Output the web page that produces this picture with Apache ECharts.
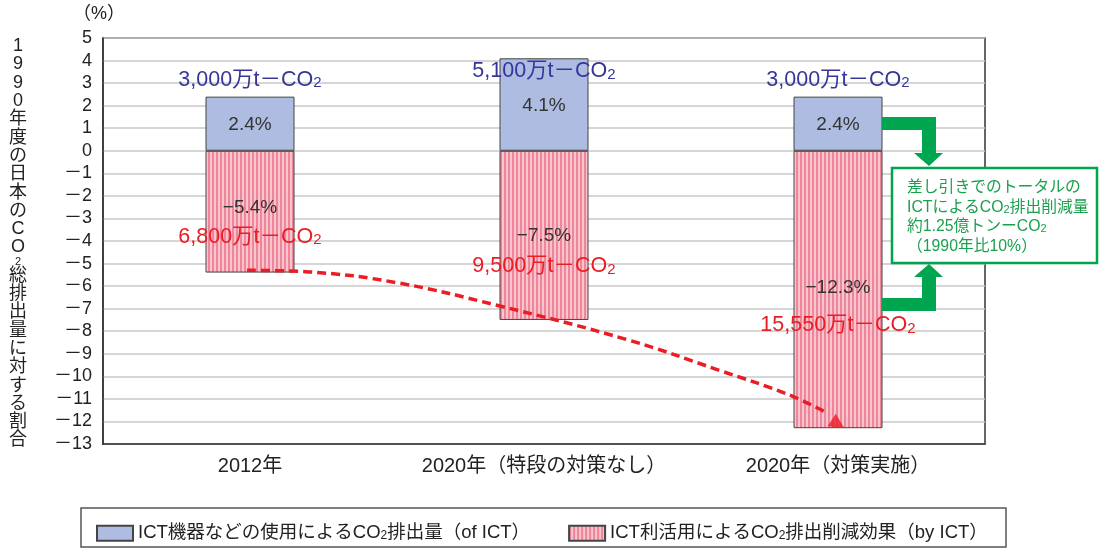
<!DOCTYPE html>
<html>
<head>
<meta charset="utf-8">
<style>
  html, body { margin: 0; padding: 0; background: #fff; }
  #chart { width: 1099px; height: 548px; }
</style>
<script src="https://cdn.jsdelivr.net/npm/echarts@6/dist/echarts.min.js"></script>
</head>
<body>
<div id="chart"></div>
<script>
// Categories and values (% of Japan's 1990 total CO2 emissions)
const categories = ['2012年', '2020年（特段の対策なし）', '2020年（対策実施）'];
const ictEmission = [2.4, 4.1, 2.4];          // CO2 emitted by ICT equipment
const ictReduction = [-5.4, -7.5, -12.3];     // CO2 reduced through ICT use
const emissionAmounts = ['3,000', '5,100', '3,000'];     // 万t-CO2
const reductionAmounts = ['6,800', '9,500', '15,550'];   // 万t-CO2

// Trend of the reduction effect (x in category units, y in %)
const trendX = [0.49, 0.7, 1.0, 1.34, 1.79, 2.1, 2.33, 2.46];
const trendY = [-5.3, -5.37, -5.85, -6.85, -8.4, -9.75, -10.8, -11.6];
const trendArrow = [2.5, -12.12];

const FONT = "'Liberation Sans', 'Noto Sans CJK JP', sans-serif";
const BLUE_TEXT = '#36369a';
const RED_TEXT = '#ea1c24';
const GREEN = '#00a550';

// Label layout: gap between amount line and % line, plus vertical nudge
const emissionLabelGap = [45, 34, 45];
const emissionLabelNudge = [1, 1, 1];
const reductionLabelGap = [29, 31, 38];
const reductionLabelNudge = [-4, 0, -2];

// vertical striped fill for the reduction bars
function stripePattern() {
  const c = document.createElement('canvas');
  c.width = 4; c.height = 4;
  const ctx = c.getContext('2d');
  ctx.fillStyle = '#f9c4cd';
  ctx.fillRect(0, 0, 4, 4);
  ctx.fillStyle = '#ee8599';
  ctx.fillRect(0, 0, 2, 4);
  return { image: c, repeat: 'repeat' };
}
const stripes = stripePattern();

function amountRich(color, lh) {
  return {
    a: { fontSize: 21.5, color: color, fontFamily: FONT, lineHeight: lh },
    s: { fontSize: 15, color: color, fontFamily: FONT, lineHeight: lh, padding: [6, 0, 0, 0] },
    p: { fontSize: 19, color: '#333', fontFamily: FONT, lineHeight: 20 }
  };
}
function fmtPct(v) {
  return (v < 0 ? '\u2212' + (-v) : String(v)) + '%';
}

const emissionData = ictEmission.map(function (v, i) {
  const la = 2 * emissionLabelGap[i] - 20;
  return {
    value: v,
    label: {
      offset: [0, -la / 2 + emissionLabelNudge[i]],
      rich: amountRich(BLUE_TEXT, la),
      formatter: '{a|' + emissionAmounts[i] + '万t－CO}{s|2}\n{p|' + fmtPct(v) + '}'
    }
  };
});
const reductionData = ictReduction.map(function (v, i) {
  const la = 2 * reductionLabelGap[i] - 20;
  return {
    value: v,
    label: {
      offset: [0, (20 + la) / 2 - 10 + reductionLabelNudge[i]],
      rich: amountRich(RED_TEXT, la),
      formatter: '{p|' + fmtPct(v) + '}\n{a|' + reductionAmounts[i] + '万t－CO}{s|2}'
    }
  };
});

const chart = echarts.init(document.getElementById('chart'), null, { renderer: 'canvas' });

// vertical axis title, one character per line
const axisTitleChars = ['1','9','9','0','年','度','の','日','本','の','C','O','2','総','排','出','量','に','対','す','る','割','合'];
const axisTitle = axisTitleChars.map(function (ch, i) {
  return (ch === '2' && axisTitleChars[i - 1] === 'O') ? '{s|2}' : '{c|' + ch + '}';
}).join('\n');

const option = {
  backgroundColor: '#fff',
  animation: false,
  grid: {
    left: 103, right: 114, top: 38, bottom: 104,
    show: true, borderColor: '#333', borderWidth: 1.5, backgroundColor: '#fff'
  },
  xAxis: [
    {
      type: 'category',
      data: categories,
      axisLine: { onZero: false, lineStyle: { color: '#333', width: 1.5 } },
      axisTick: { inside: true, length: 8, lineStyle: { color: '#333', width: 1.2 } },
      axisLabel: { interval: 0, fontSize: 20, color: '#222', fontFamily: FONT, margin: 12 }
    },
    { type: 'value', min: 0, max: 3, show: false }
  ],
  yAxis: {
    type: 'value',
    min: -13, max: 5, interval: 1,
    axisLine: { show: true, lineStyle: { color: '#333', width: 1.5 } },
    axisTick: { show: false },
    splitLine: { lineStyle: { color: '#c8c8c8', width: 1.5 } },
    axisLabel: {
      fontSize: 18, color: '#222', fontFamily: FONT, margin: 11,
      formatter: function (v) { return v < 0 ? '－' + (-v) : String(v); }
    }
  },
  legend: {
    data: ['ICT機器などの使用によるCO₂排出量（of ICT）', 'ICT利活用によるCO₂排出削減効果（by ICT）'],
    left: 91, top: 519,
    icon: 'rect',
    itemWidth: 36, itemHeight: 15, itemGap: 38,
    textStyle: { fontSize: 18.5, color: '#222', fontFamily: FONT },
    formatter: function (name) { return name.replace('CO₂', 'CO{s|2}'); },
    selectedMode: false
  },
  series: [
    {
      name: 'ICT機器などの使用によるCO₂排出量（of ICT）',
      type: 'bar',
      stack: 'total',
      barWidth: 89,
      data: emissionData,
      itemStyle: { color: '#adbce0', borderColor: '#444', borderWidth: 1 },
      label: { show: true, position: 'inside', fontFamily: FONT }
    },
    {
      name: 'ICT利活用によるCO₂排出削減効果（by ICT）',
      type: 'bar',
      stack: 'total',
      barWidth: 89,
      data: reductionData,
      itemStyle: { color: stripes, borderColor: '#444', borderWidth: 1 },
      label: { show: true, position: 'inside', fontFamily: FONT }
    },
    {
      type: 'line',
      xAxisIndex: 1,
      smooth: 0.4,
      symbol: 'none',
      z: 5,
      silent: true,
      data: trendX.map(function (x, i) { return [x, trendY[i]]; }),
      lineStyle: { color: '#ea1c24', width: 3.5, type: [9, 5] }
    },
    {
      type: 'scatter',
      xAxisIndex: 1,
      symbol: 'triangle',
      symbolSize: [15, 15],
      symbolRotate: -123,
      z: 6,
      silent: true,
      data: [trendArrow],
      itemStyle: { color: '#ea1c24' }
    }
  ],
  graphic: [
    {
      type: 'text', x: 73, y: 5,
      style: { text: '（%）', font: "18px 'Liberation Sans', 'Noto Sans CJK JP', sans-serif", fill: '#222' }
    },
    {
      type: 'text', x: 18, y: 37,
      style: {
        text: axisTitle,
        align: 'center',
        fill: '#222',
        rich: {
          c: { fontSize: 18, lineHeight: 18.3, fill: '#222', fontFamily: FONT, align: 'center' },
          s: { fontSize: 11, lineHeight: 10, fill: '#222', fontFamily: FONT, align: 'center' }
        }
      }
    },
    // legend frame
    {
      type: 'rect', z: -1,
      shape: { x: 81, y: 508, width: 925, height: 39 },
      style: { fill: '#fff', stroke: '#555', lineWidth: 1.5 }
    },
    // green arrows into the callout
    {
      type: 'polygon', z: 10,
      shape: { points: [[882,117],[936,117],[936,153],[943,153],[929,166],[914,153],[922,153],[922,130],[882,130]] },
      style: { fill: GREEN }
    },
    {
      type: 'polygon', z: 10,
      shape: { points: [[929,264],[943,277],[936,277],[936,311],[882,311],[882,298],[922,298],[922,277],[914,277]] },
      style: { fill: GREEN }
    },
    {
      type: 'rect', z: 11,
      shape: { x: 892, y: 168, width: 205, height: 95 },
      style: { fill: '#fff', stroke: GREEN, lineWidth: 2.5 }
    },
    {
      type: 'text', z: 12, x: 907, y: 178,
      style: {
        text: '{g|差し引きでのトータルの}\n{g|ICTによるCO}{s|2}{g|排出削減量}\n{g|約1.25億トンーCO}{s|2}\n{g|（1990年比10%）}',
        rich: {
          g: { fontSize: 15.8, lineHeight: 19.5, fill: '#1ba04f', fontFamily: FONT },
          s: { fontSize: 11, lineHeight: 19.5, fill: '#1ba04f', fontFamily: FONT, padding: [5, 0, 0, 0] }
        }
      }
    }
  ]
};

option.legend.textStyle.rich = {
  s: { fontSize: 12, color: '#222', fontFamily: FONT, padding: [5, 0, 0, 0] }
};

chart.setOption(option);
</script>
</body>
</html>
